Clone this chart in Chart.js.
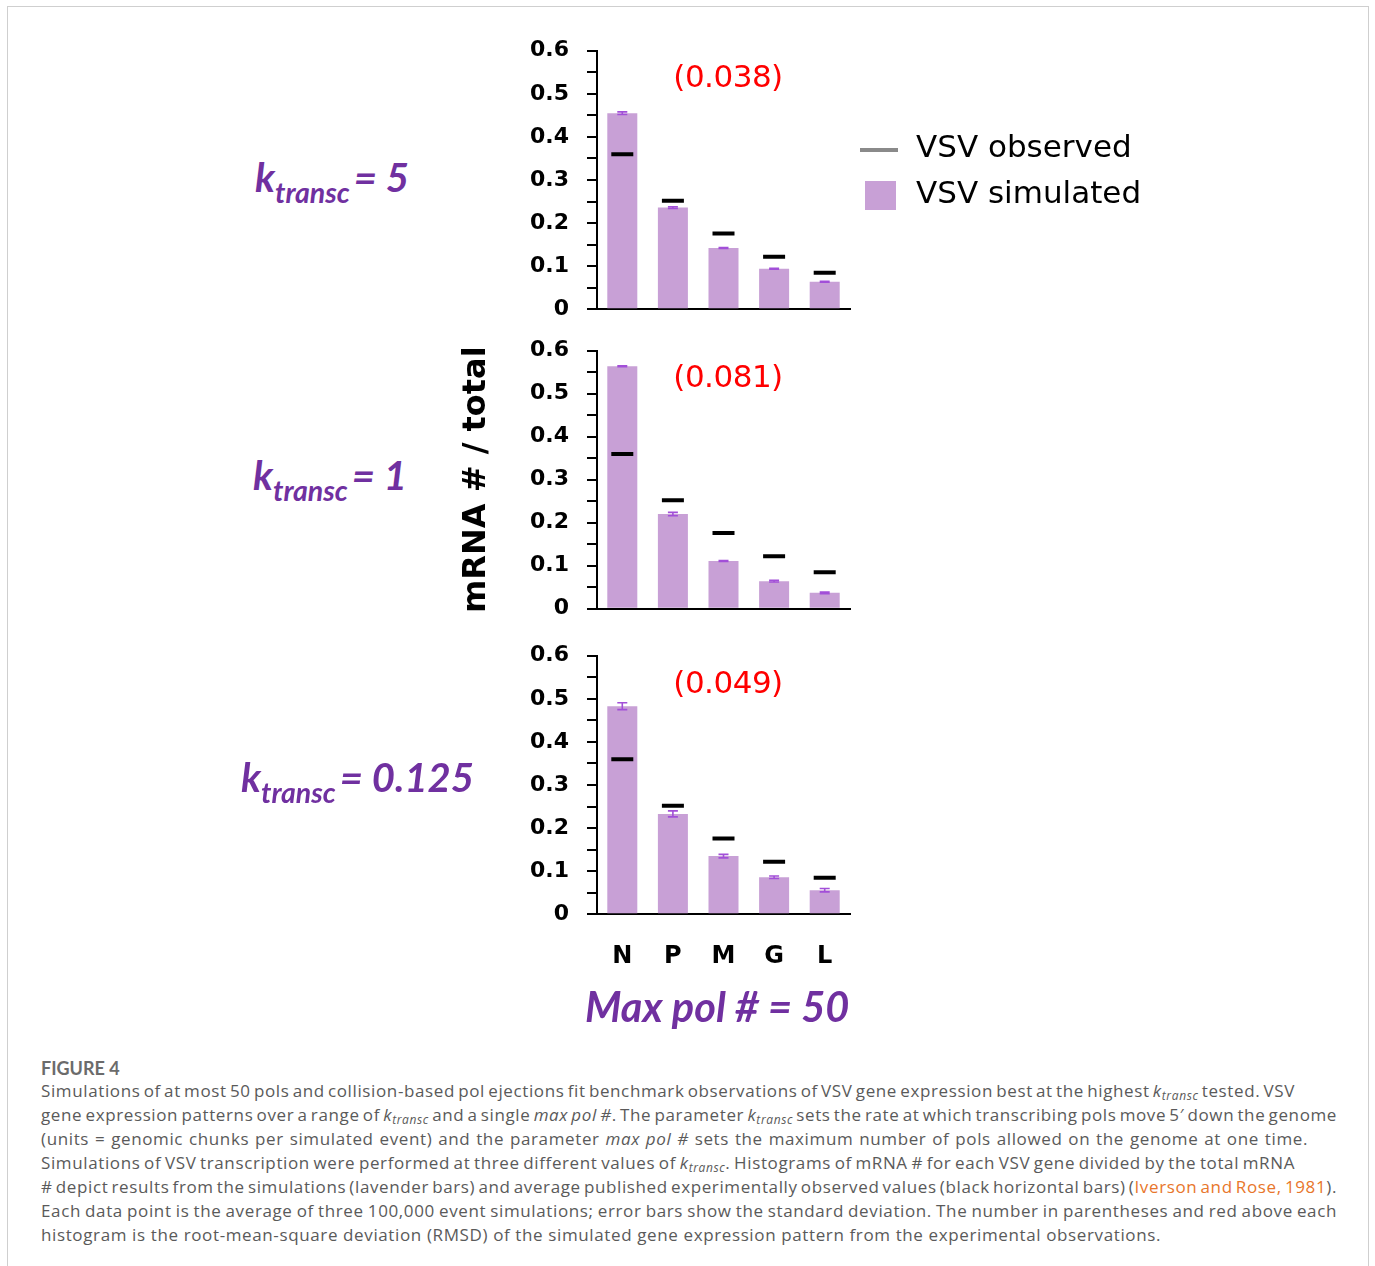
<!DOCTYPE html>
<html>
<head>
<meta charset="utf-8">
<script src="https://cdn.jsdelivr.net/npm/chart.js@4.4.1/dist/chart.umd.min.js"></script>
<style>
  html, body { margin: 0; padding: 0; background: #fff; }
  body { width: 1375px; height: 1266px; position: relative; overflow: hidden; }
  .frame { position: absolute; left: 7px; top: 6px; width: 1362px; height: 1300px;
           border: 1.5px solid #cfcfcf; box-sizing: border-box; }
  canvas.panel { position: absolute; left: 430px; }
  .rmsd { position: absolute; left: 628px; width: 200px; text-align: center;
          font: 31px/31px "DejaVu Sans"; letter-spacing: -0.5px; color: #ff0000; white-space: nowrap; }
  .klab { position: absolute; font: italic 700 40px/40px Lato; color: #7030a0; white-space: nowrap; }
  .klab .sub { font-size: 28.5px; position: relative; top: 11px; margin-right: 4px; }
  .maxpol { position: absolute; left: 585px; top: 986px; font: italic 700 41.5px/41.5px Lato;
            color: #7030a0; white-space: nowrap; }
  .legend-line { position: absolute; left: 860px; top: 148px; width: 38px; height: 4px; background: #8a8a8a; }
  .legend-box { position: absolute; left: 865px; top: 181px; width: 31px; height: 29px; background: #c8a0d6; }
  .legend-text { position: absolute; left: 916px; font: 31px/31px "DejaVu Sans"; color: #000; white-space: nowrap; }
  .figlabel { position: absolute; left: 41px; top: 1056px; font: 700 18px/24px Lato; color: #6b6b6b; }
  .cap { position: absolute; left: 41px; font: 400 17px/24px "Open Sans"; color: #5a5a5a; white-space: nowrap; }
  .cap sub { font-size: 12px; line-height: 0; vertical-align: -3px; font-style: italic; }
  .cap .ref { color: #e8762b; }
</style>
</head>
<body>
<div class="frame"></div>

<canvas id="panel0" class="panel" width="450" height="350" style="top:0px"></canvas>
<canvas id="panel1" class="panel" width="450" height="350" style="top:300px"></canvas>
<canvas id="panel2" class="panel" width="450" height="415" style="top:605px"></canvas>

<div class="rmsd" id="rmsd0" style="top:61px"></div>
<div class="rmsd" id="rmsd1" style="top:360.6px"></div>
<div class="rmsd" id="rmsd2" style="top:666.6px"></div>

<div class="klab" id="klab0" style="left:255px;top:156.5px"></div>
<div class="klab" id="klab1" style="left:253px;top:454.5px"></div>
<div class="klab" id="klab2" style="left:241px;top:756.5px"></div>

<div class="maxpol">Max pol # = 50</div>

<div class="legend-line"></div>
<div class="legend-text" style="top:131px">VSV observed</div>
<div class="legend-box"></div>
<div class="legend-text" style="top:177.3px">VSV simulated</div>

<div class="figlabel">FIGURE 4</div>
<div class="cap" data-w="1254" style="top:1079px">Simulations of at most 50 pols and collision-based pol ejections fit benchmark observations of VSV gene expression best at the highest <i>k</i><sub>transc</sub> tested. VSV</div>
<div class="cap" data-w="1296" style="top:1103px">gene expression patterns over a range of <i>k</i><sub>transc</sub> and a single <i>max pol #</i>. The parameter <i>k</i><sub>transc</sub> sets the rate at which transcribing pols move 5′ down the genome</div>
<div class="cap" data-w="1267" style="top:1127px">(units = genomic chunks per simulated event) and the parameter <i>max pol #</i> sets the maximum number of pols allowed on the genome at one time.</div>
<div class="cap" data-w="1254" style="top:1151px">Simulations of VSV transcription were performed at three different values of <i>k</i><sub>transc</sub>. Histograms of mRNA # for each VSV gene divided by the total mRNA</div>
<div class="cap" data-w="1296" style="top:1175px"># depict results from the simulations (lavender bars) and average published experimentally observed values (black horizontal bars) (<span class="ref">Iverson and Rose, 1981</span>).</div>
<div class="cap" data-w="1296" style="top:1199px">Each data point is the average of three 100,000 event simulations; error bars show the standard deviation. The number in parentheses and red above each</div>
<div class="cap" data-nat="1120" style="top:1223px">histogram is the root-mean-square deviation (RMSD) of the simulated gene expression pattern from the experimental observations.</div>

<script>
// VSV genes, in genome order
const genes = ['N', 'P', 'M', 'G', 'L'];

// Published fraction of total mRNA per gene (Iverson and Rose, 1981)
const observed = [0.360, 0.252, 0.176, 0.122, 0.085];

// Simulated fraction of total mRNA (mean of three runs) and standard deviation
const simK5 = [0.455, 0.236, 0.142, 0.094, 0.064];
const sdK5 = [0.003, 0.002, 0.001, 0.001, 0.001];

const simK1 = [0.564, 0.220, 0.111, 0.064, 0.037];
const sdK1 = [0.001, 0.004, 0.001, 0.002, 0.002];

const simK0125 = [0.483, 0.233, 0.135, 0.086, 0.056];
const sdK0125 = [0.008, 0.007, 0.004, 0.003, 0.004];

// Transcription rates and RMSD of each simulated pattern from the observations
const ktransc = ['5', '1', '0.125'];
const rmsd = ['0.038', '0.081', '0.049'];

// Labelled y ticks (minor ticks every 0.05 are unlabelled)
const yTickLabels = ['0', '0.1', '0.2', '0.3', '0.4', '0.5', '0.6'];

const simulated = [simK5, simK1, simK0125];
const deviations = [sdK5, sdK1, sdK0125];

// Per-panel canvas padding so the three plot areas stack with a shared y-axis column
const panelLayout = [
  { padTop: 50.7, padBottom: 40.7, xAxisHeight: 0, showGenes: false, showTitle: false },
  { padTop: 50.7, padBottom: 41.3, xAxisHeight: 0, showGenes: false, showTitle: true },
  { padTop: 50.7, padBottom: 45.7, xAxisHeight: 60, showGenes: true, showTitle: false }
];

const BAR_COLOR = '#c8a0d6';
const ERR_COLOR = '#a24fd8';

// Draws standard-deviation whiskers on top of the simulated bars
const errorBars = {
  id: 'errorBars',
  afterDatasetDraw(chart, args, opts) {
    if (args.index !== 1 || !opts.sd) return;
    const yScale = chart.scales.y;
    const values = chart.data.datasets[1].data;
    const ctx = chart.ctx;
    ctx.save();
    ctx.strokeStyle = opts.color;
    ctx.lineWidth = opts.width;
    args.meta.data.forEach((bar, i) => {
      const top = yScale.getPixelForValue(values[i] + opts.sd[i]);
      const bottom = yScale.getPixelForValue(values[i] - opts.sd[i]);
      const x = bar.x;
      ctx.beginPath();
      ctx.moveTo(x, top); ctx.lineTo(x, bottom);
      ctx.moveTo(x - opts.cap, top); ctx.lineTo(x + opts.cap, top);
      ctx.moveTo(x - opts.cap, bottom); ctx.lineTo(x + opts.cap, bottom);
      ctx.stroke();
    });
    ctx.restore();
  }
};

panelLayout.forEach((layout, p) => {
  document.getElementById('rmsd' + p).textContent = '(' + rmsd[p] + ')';
  const k = document.getElementById('klab' + p);
  k.innerHTML = 'k<span class="sub">transc</span>= ' + ktransc[p];

  new Chart(document.getElementById('panel' + p), {
    type: 'bar',
    data: {
      labels: genes,
      datasets: [
        {
          type: 'line',
          label: 'VSV observed',
          data: observed,
          showLine: false,
          pointStyle: 'line',
          pointRadius: 11,
          pointHoverRadius: 11,
          pointBorderWidth: 4,
          pointHoverBorderWidth: 4,
          borderColor: '#000',
          backgroundColor: '#000',
          order: 0
        },
        {
          type: 'bar',
          label: 'VSV simulated',
          data: simulated[p],
          backgroundColor: BAR_COLOR,
          borderWidth: 0,
          barPercentage: 0.593,
          categoryPercentage: 1.0,
          order: 1
        }
      ]
    },
    options: {
      responsive: false,
      animation: false,
      events: [],
      layout: { padding: { left: 0, right: 30, top: layout.padTop, bottom: layout.padBottom } },
      plugins: {
        legend: { display: false },
        tooltip: { enabled: false },
        errorBars: { sd: deviations[p], color: ERR_COLOR, width: 1.6, cap: 5 }
      },
      scales: {
        x: {
          offset: true,
          grid: { display: false, drawTicks: false },
          border: { display: true, color: '#000', width: 2 },
          ticks: {
            display: layout.showGenes,
            autoSkip: false,
            maxRotation: 0,
            padding: 28,
            color: '#000',
            font: { family: 'DejaVu Sans', size: 24, weight: 'bold' }
          },
          afterFit(scale) { scale.height = layout.xAxisHeight; }
        },
        y: {
          min: 0,
          max: 0.6,
          grid: { display: true, drawOnChartArea: false, drawTicks: true, tickLength: 10, color: '#000', lineWidth: 2 },
          border: { display: true, color: '#000', width: 2 },
          ticks: {
            stepSize: 0.05,
            autoSkip: false,
            padding: 18,
            color: '#000',
            font: { family: 'DejaVu Sans', size: 22, weight: 'bold' },
            callback(value) {
              const half = Math.round(value * 20);
              return half % 2 === 0 ? yTickLabels[half / 2] : '';
            }
          },
          title: {
            display: layout.showTitle,
            text: 'mRNA # / total',
            color: '#000',
            font: { family: 'DejaVu Sans', size: 32, weight: 'bold' },
            padding: { top: 27.3, bottom: 0 }
          },
          afterFit(scale) { scale.width = 167; }
        }
      }
    },
    plugins: [errorBars]
  });
});

// Caption: set tracking from the last (unjustified) line, then justify the
// other lines to their measure by adjusting word spacing.
function setCaption() {
  const lines = Array.from(document.querySelectorAll('.cap'));
  lines.forEach(l => { l.style.letterSpacing = '0px'; l.style.wordSpacing = '0px'; });
  const last = lines.find(l => l.dataset.nat);
  const tracking = (parseFloat(last.dataset.nat) - last.getBoundingClientRect().width) / last.textContent.length;
  lines.forEach(l => {
    l.style.letterSpacing = tracking + 'px';
    if (!l.dataset.w) return;
    const spaces = (l.textContent.match(/ /g) || []).length;
    const natural = l.getBoundingClientRect().width;
    l.style.wordSpacing = ((parseFloat(l.dataset.w) - natural) / spaces) + 'px';
  });
}
setCaption();
if (document.fonts && document.fonts.ready) document.fonts.ready.then(setCaption);
</script>
</body>
</html>
